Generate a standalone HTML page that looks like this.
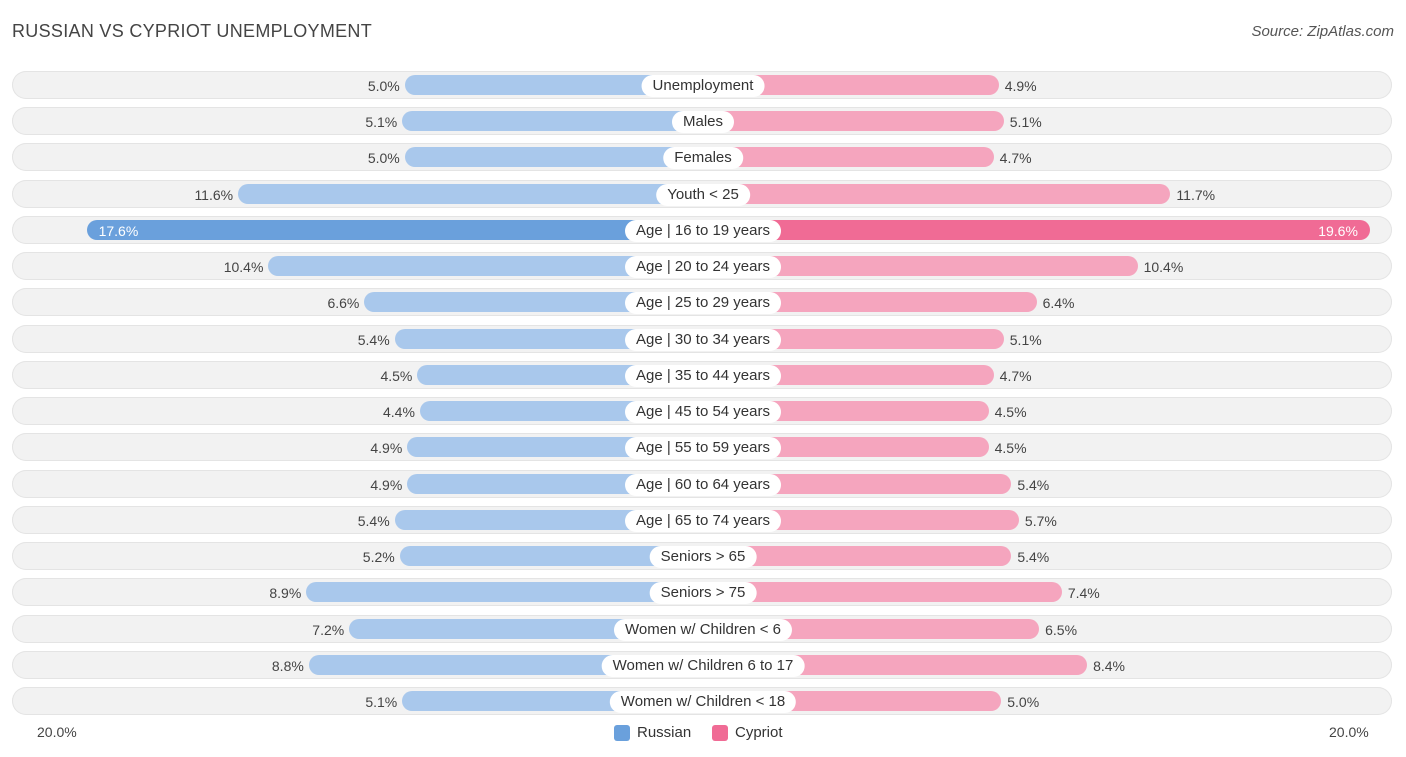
<!DOCTYPE html>
<html><head><meta charset="utf-8"><style>
body{margin:0;background:#fff;font-family:"Liberation Sans",sans-serif;}
#wrap{position:relative;width:1406px;height:757px;overflow:hidden;}
.title{position:absolute;left:12px;top:21px;font-size:18px;color:#444;letter-spacing:0.3px}
.src{position:absolute;right:12px;top:23px;font-size:15px;color:#555;font-style:italic}
.rowbg{position:absolute;left:12px;width:1380px;height:28px;border-radius:14px;background:#f2f2f2;box-shadow:inset 0 0 0 1px #e4e4e4}
.bar{position:absolute;height:20px;border-radius:10px}
.lbl{position:absolute;height:22px;line-height:22px;padding:0 11px;background:#fff;border-radius:11px;font-size:15px;color:#333;transform:translateX(-50%);white-space:nowrap}
.val{position:absolute;font-size:14px;color:#444;line-height:20px}
.axis{position:absolute;top:724px;font-size:14px;color:#444}
.leg{position:absolute;top:724px;font-size:15px;color:#333;display:flex;align-items:center}
.sw{width:16px;height:16px;border-radius:3px;margin-right:7px}
</style></head><body><div id="wrap">
<div class="title">RUSSIAN VS CYPRIOT UNEMPLOYMENT</div>
<div class="src">Source: ZipAtlas.com</div>
<div class="axis" style="left:37px">20.0%</div>
<div class="axis" style="left:1329px">20.0%</div>
<div class="leg" style="left:614px"><div class="sw" style="background:#6aa0dc"></div>Russian</div>
<div class="leg" style="left:712px"><div class="sw" style="background:#f06b95"></div>Cypriot</div>
</div>
<script>
const categories=["Unemployment","Males","Females","Youth < 25","Age | 16 to 19 years","Age | 20 to 24 years","Age | 25 to 29 years","Age | 30 to 34 years","Age | 35 to 44 years","Age | 45 to 54 years","Age | 55 to 59 years","Age | 60 to 64 years","Age | 65 to 74 years","Seniors > 65","Seniors > 75","Women w/ Children < 6","Women w/ Children 6 to 17","Women w/ Children < 18"];
const russian=[5.0,5.1,5.0,11.6,17.6,10.4,6.6,5.4,4.5,4.4,4.9,4.9,5.4,5.2,8.9,7.2,8.8,5.1];
const cypriot=[4.9,5.1,4.7,11.7,19.6,10.4,6.4,5.1,4.7,4.5,4.5,5.4,5.7,5.4,7.4,6.5,8.4,5.0];
const highlight=4;
const wrap=document.getElementById('wrap');
const cx=703;
function len(v){return 172+25.25*v;}
function rowY(i){return 85+i*36.24;}
categories.forEach((c,i)=>{
  const y=rowY(i);
  const bg=document.createElement('div');bg.className='rowbg';bg.style.top=(y-14)+'px';
  
  
  wrap.appendChild(bg);
  const hi=i===highlight;
  const lw=len(russian[i]),rw=len(cypriot[i]);
  const bl=document.createElement('div');bl.className='bar';
  bl.style.cssText+=`left:${cx-lw}px;width:${lw}px;top:${y-10}px;background:${hi?'#6aa0dc':'#a9c8ec'}`;
  
  
  wrap.appendChild(bl);
  const br=document.createElement('div');br.className='bar';
  br.style.cssText+=`left:${cx}px;width:${rw}px;top:${y-10}px;background:${hi?'#f06b95':'#f5a5be'}`;
  
  
  wrap.appendChild(br);
  const vl=document.createElement('div');vl.className='val';vl.textContent=russian[i].toFixed(1)+'%';
  
  
  if(hi){vl.style.cssText+=`left:${cx-lw+12}px;top:${y-9}px;color:#fff`;}
  else{vl.style.cssText+=`right:${1406-(cx-lw)+5}px;top:${y-9}px`;}
  wrap.appendChild(vl);
  const vr=document.createElement('div');vr.className='val';vr.textContent=cypriot[i].toFixed(1)+'%';
  
  
  if(hi){vr.style.cssText+=`right:${1406-(cx+rw)+12}px;top:${y-9}px;color:#fff`;}
  else{vr.style.cssText+=`left:${cx+rw+6}px;top:${y-9}px`;}
  wrap.appendChild(vr);
  const lb=document.createElement('div');lb.className='lbl';lb.textContent=c;
  lb.style.left=cx+'px';lb.style.top=(y-10)+'px';
  
  
  wrap.appendChild(lb);
});
</script></body></html>
